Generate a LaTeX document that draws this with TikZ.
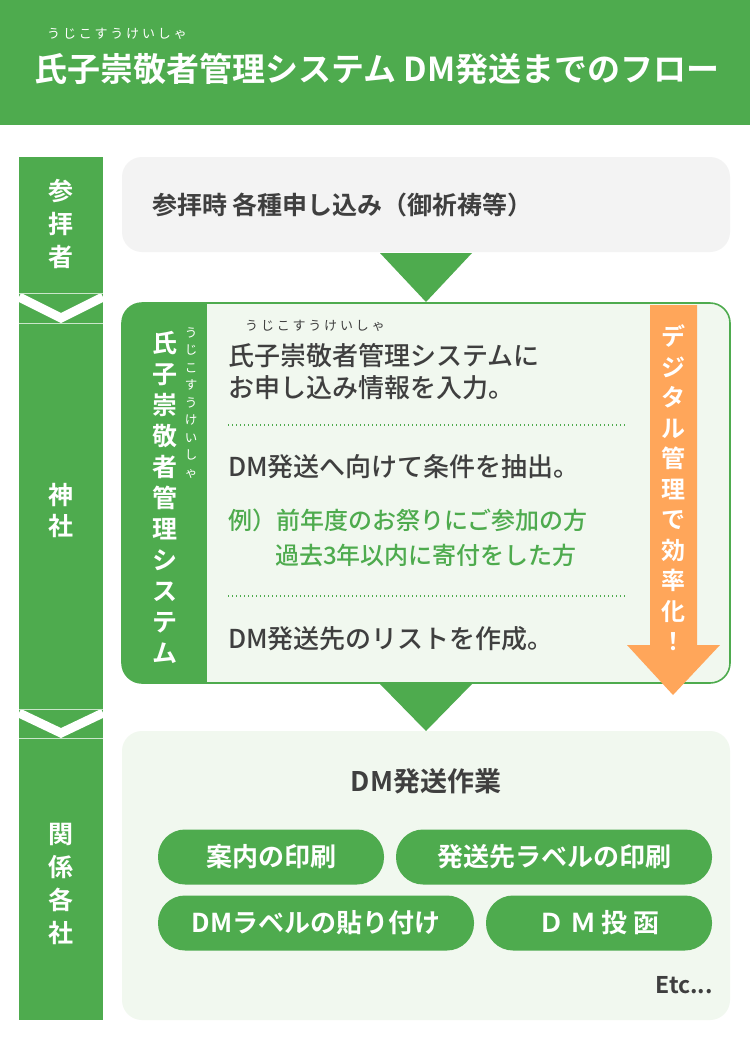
\documentclass[tikz,border=0pt]{standalone}
\usepackage{fontspec}
\setmainfont{Noto Sans CJK JP}
\newfontfamily\jpbold{Noto Sans CJK JP Bold}
\newfontfamily\jpmed{Noto Sans CJK JP Medium}
\newfontfamily\rubyfont{Noto Sans CJK JP}[LetterSpace=22]
\usetikzlibrary{calc}
\definecolor{grn}{HTML}{4EAB4E}
\definecolor{orng}{HTML}{FFA65A}
\definecolor{dk}{HTML}{3F3F3F}
\definecolor{gbox}{HTML}{F3F3F3}
\definecolor{lgbox}{HTML}{F1F8EF}
\tikzset{
  lbl/.style={text=white,inner sep=0pt,align=center,font=\jpbold\fontsize{25}{33}\selectfont},
  body/.style={text=dk,inner sep=0pt,anchor=west,font=\jpmed\fontsize{26}{30}\selectfont},
  ex/.style={text=grn,inner sep=0pt,anchor=west,font=\jpmed\fontsize{24}{28}\selectfont},
  ruby/.style={inner sep=0pt,font=\rubyfont\fontsize{13}{15}\selectfont},
  pill/.style={fill=grn,rounded corners=27pt,text=white,font=\jpbold\fontsize{26}{30}\selectfont,minimum height=55pt,inner sep=0pt},
  tri/.style={fill=grn},
  dotline/.style={grn,line width=1.3pt,dash pattern=on 1.3pt off 2.7pt},
  chev/.style={white,line width=9pt,line join=miter}
}
\begin{document}
\begin{tikzpicture}[x=1pt,y=-1pt]
\useasboundingbox (0,0) rectangle (750,1050);
\fill[white] (0,0) rectangle (750,1050);
% header
\fill[grn] (0,0) rectangle (750,125) coordinate (hdr);
\node[ruby,text=white,anchor=west] (hruby) at (47,34) {うじこすうけいしゃ};
\node[inner sep=0pt,text=white,anchor=west,font=\jpbold\fontsize{33}{36}\selectfont] (title) at (34,69) {氏子崇敬者管理システム DM発送までのフロー};
% left bar
\fill[grn] (19,157) rectangle (103,1020);
\draw[chev] (19,297) -- (61,318) -- (103,297);
\draw[chev] (19,713) -- (61,733) -- (103,713);
\draw[white!70!grn,line width=0.6pt] (19,293) -- (103,293) (19,323) -- (103,323) (19,709) -- (103,709) (19,738) -- (103,738);
\node[lbl] (l1) at (61,224) {参\\拝\\者};
\node[lbl,font=\jpbold\fontsize{25}{31}\selectfont] (l2) at (61,511) {神\\社};
\node[lbl] (l3) at (61,884) {関\\係\\各\\社};
% box 1
\fill[gbox,rounded corners=20pt] (122,157) rectangle (730,252);
\node[body,font=\jpbold\fontsize{25}{30}\selectfont] (b1) at (152,205) {参拝時 各種申し込み（御祈祷等）};
% triangle 1
\fill[tri] (380,253) -- (472,253) -- (426,302) coordinate (t1) -- cycle;
% box 2
\begin{scope}
\clip[rounded corners=20pt] (122,303) rectangle (730,683);
\fill[lgbox] (122,303) rectangle (730,683);
\fill[grn] (122,303) rectangle (207,683);
\end{scope}
\draw[grn,line width=1.6pt,rounded corners=20pt] (122,303) rectangle (730,683);
\node[lbl,font=\jpbold\fontsize{25}{31}\selectfont] (sys) at (165,497) {氏\\子\\崇\\敬\\者\\管\\理\\シ\\ス\\テ\\ム};
\node[inner sep=0pt,text=white,align=center,font=\fontsize{12.5}{17.5}\selectfont] (sysruby) at (191,403) {う\\じ\\こ\\す\\う\\け\\い\\し\\ゃ};
% orange arrow
\fill[orng] (650,305) -- (697,305) -- (697,645) -- (720,645) -- (673,695) -- (627,645) -- (650,645) -- cycle;
\node[lbl,font=\jpbold\fontsize{24}{30.5}\selectfont] (dig) at (673,488) {デ\\ジ\\タ\\ル\\管\\理\\で\\効\\率\\化\\！};
% box 2 texts
\node[ruby,text=dk,anchor=west] (r2) at (245,326) {うじこすうけいしゃ};
\node[body] (s1) at (228,356) {氏子崇敬者管理システムに};
\node[body] (s2) at (228,388) {お申し込み情報を入力。};
\draw[dotline] (228,425) -- (625,425);
\node[body] (s3) at (228,467) {DM発送へ向けて条件を抽出。};
\node[ex] (e1) at (228,520) {例）前年度のお祭りにご参加の方};
\node[ex] (e2) at (275,555) {過去3年以内に寄付をした方};
\draw[dotline] (228,596) -- (625,596);
\node[body] (s4) at (228,639) {DM発送先のリストを作成。};
% triangle 2
\fill[tri] (380,684) -- (472,684) -- (426,731) coordinate (t2) -- cycle;
% box 3
\fill[lgbox,rounded corners=20pt] (122,731) rectangle (730,1020);
\node[inner sep=0pt,text=dk,font=\jpbold\fontsize{27}{30}\selectfont] (work) at (426,781) {DM発送作業};
\node[pill,minimum width=226pt] (p1) at (271,857) {案内の印刷};
\node[pill,minimum width=316pt] (p2) at (554,857) {発送先ラベルの印刷};
\node[pill,minimum width=316pt] (p3) at (316,923) {DMラベルの貼り付け};
\node[pill,minimum width=226pt] (p4) at (599,923) {Ｄ Ｍ 投 函};
\node[inner sep=0pt,anchor=east,text=dk,font=\jpbold\fontsize{23}{26}\selectfont] (etc) at (713,985) {Etc...};
\end{tikzpicture}
\end{document}
